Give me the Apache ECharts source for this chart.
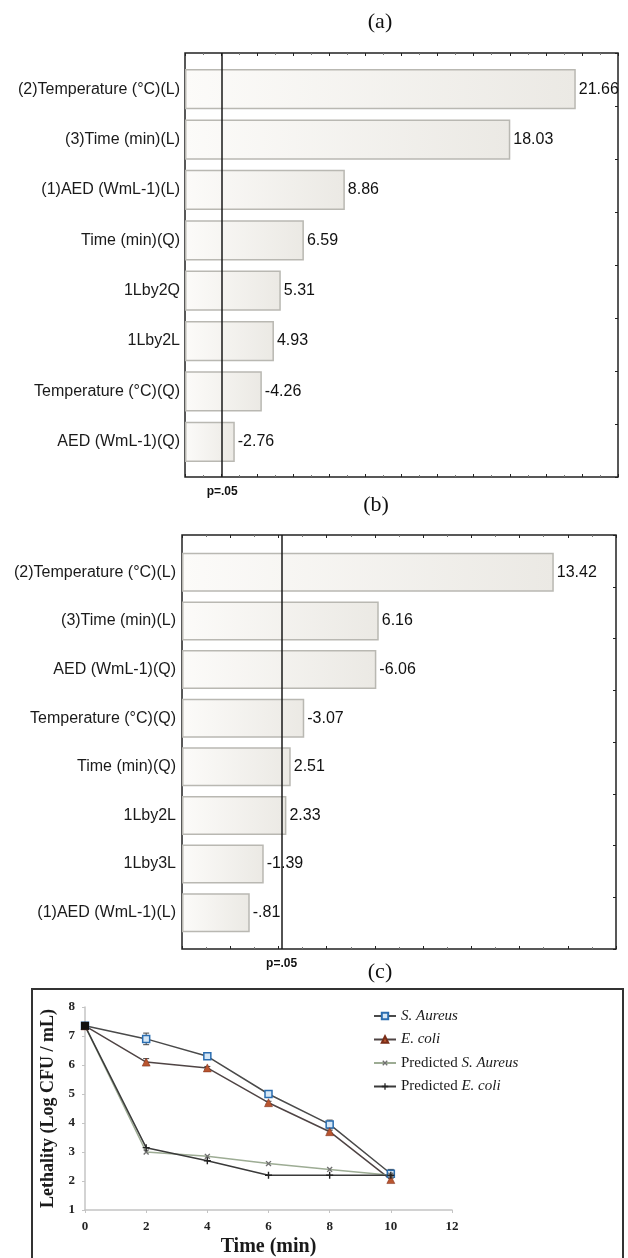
<!DOCTYPE html>
<html>
<head>
<meta charset="utf-8">
<script src="https://cdn.jsdelivr.net/npm/echarts@6/dist/echarts.min.js"></script>
<style>
html, body { margin: 0; padding: 0; background: #fff; }
#chart { width: 628px; height: 1258px; }
</style>
</head>
<body>
<div id="chart"></div>
<script>
// (a) pareto of standardized effects
const factorsA = ['(2)Temperature (°C)(L)', '(3)Time (min)(L)', '(1)AED (WmL-1)(L)', 'Time (min)(Q)', '1Lby2Q', '1Lby2L', 'Temperature (°C)(Q)', 'AED (WmL-1)(Q)'];
const effectsA = [21.66, 18.03, 8.86, 6.59, 5.31, 4.93, -4.26, -2.76];
const pLimitA = 2.06;

// (b)
const factorsB = ['(2)Temperature (°C)(L)', '(3)Time (min)(L)', 'AED (WmL-1)(Q)', 'Temperature (°C)(Q)', 'Time (min)(Q)', '1Lby2L', '1Lby3L', '(1)AED (WmL-1)(L)'];
const effectsB = [13.42, 6.16, -6.06, -3.07, 2.51, 2.33, -1.39, -0.81];
const pLimitB = 2.13;

// (c) lethality vs time
const timeMin = [0, 2, 4, 6, 8, 10];
const sAureus = [7.35, 6.9, 6.3, 5.0, 3.95, 2.25];
const eColi = [7.35, 6.1, 5.9, 4.7, 3.7, 2.05];
const predSAureus = [7.35, 3.0, 2.85, 2.6, 2.4, 2.2];
const predEColi = [7.35, 3.15, 2.7, 2.2, 2.2, 2.2];
const errSAureus = [0, 0.2, 0.05, 0.08, 0.15, 0.15];
const errEColi = [0, 0.12, 0.05, 0.05, 0.05, 0.1];

const sans = '"Liberation Sans", Arial, sans-serif';
const serif = '"Liberation Serif", "Times New Roman", serif';

function effectLabel(v) {
    return String(v).replace(/^(-?)0\./, '$1.');
}
function pairs(xs, ys) {
    return xs.map((x, i) => [x, ys[i]]);
}

const barFill = {
    type: 'linear', x: 0, y: 0, x2: 1, y2: 0,
    colorStops: [{ offset: 0, color: '#fcfbf9' }, { offset: 1, color: '#ebe9e4' }]
};

function tickAxis(grid, pos, min, max) {
    return {
        type: 'value', gridIndex: grid, position: pos, min: min, max: max, interval: 2,
        axisLine: { show: false, onZero: false }, axisLabel: { show: false }, splitLine: { show: false },
        axisTick: { show: true, inside: true, length: 3, lineStyle: { color: '#222' } },
        minorTick: { show: true, splitNumber: 2, length: 2, lineStyle: { color: '#777' } }
    };
}
function rightAxis(grid) {
    return {
        type: 'value', gridIndex: grid, position: 'right', min: 0, max: 8, interval: 1,
        axisLine: { show: false, onZero: false }, axisLabel: { show: false }, splitLine: { show: false },
        axisTick: { show: true, inside: true, length: 3, lineStyle: { color: '#222' } }
    };
}
function factorAxis(grid, data, margin) {
    return {
        type: 'category', gridIndex: grid, data: data, inverse: true,
        axisLine: { show: false, onZero: false }, axisTick: { show: false },
        axisLabel: { margin: margin, fontFamily: sans, fontSize: 16, color: '#1a1a1a' }
    };
}
function effectBars(xi, yi, effects) {
    return {
        type: 'bar', xAxisIndex: xi, yAxisIndex: yi,
        data: effects.map(Math.abs),
        barCategoryGap: '20%',
        itemStyle: { color: barFill, borderColor: '#b9b8b2', borderWidth: 1.5 },
        label: {
            show: true, position: 'right', distance: 3,
            fontFamily: sans, fontSize: 16, color: '#111',
            formatter: p => effectLabel(effects[p.dataIndex])
        }
    };
}
function pLine(xi, yi, limit) {
    return {
        type: 'line', xAxisIndex: xi, yAxisIndex: yi, data: [], silent: true,
        markLine: {
            silent: true, symbol: ['none', 'none'],
            lineStyle: { color: '#1a1a1a', width: 1.5, type: 'solid' },
            label: { show: true, position: 'start', distance: 9, formatter: 'p=.05',
                fontFamily: sans, fontWeight: 'bold', fontSize: 12, color: '#111' },
            data: [{ xAxis: limit }]
        }
    };
}
function errorBar(params, api) {
    const x = api.value(0), y = api.value(1), e = api.value(2);
    if (!e) return;
    const hi = api.coord([x, y + e]);
    const lo = api.coord([x, y - e]);
    const style = { stroke: '#444', lineWidth: 1 };
    return {
        type: 'group',
        children: [
            { type: 'line', shape: { x1: hi[0], y1: hi[1], x2: lo[0], y2: lo[1] }, style: style },
            { type: 'line', shape: { x1: hi[0] - 3, y1: hi[1], x2: hi[0] + 3, y2: hi[1] }, style: style },
            { type: 'line', shape: { x1: lo[0] - 3, y1: lo[1], x2: lo[0] + 3, y2: lo[1] }, style: style }
        ]
    };
}

const plusPath = 'path://M4,0H6V10H4ZM0,4H10V6H0Z';

const option = {
    animation: false,
    backgroundColor: '#fff',
    graphic: [
        { type: 'text', x: 380, y: 22, style: { text: '(a)', font: '22px ' + serif, fill: '#111', align: 'center', verticalAlign: 'middle' } },
        { type: 'text', x: 376, y: 505, style: { text: '(b)', font: '22px ' + serif, fill: '#111', align: 'center', verticalAlign: 'middle' } },
        { type: 'text', x: 380, y: 972, style: { text: '(c)', font: '22px ' + serif, fill: '#111', align: 'center', verticalAlign: 'middle' } },
        { type: 'rect', shape: { x: 32, y: 989, width: 591, height: 300 }, style: { fill: 'none', stroke: '#333', lineWidth: 2 } }
    ],
    grid: [
        { left: 185, right: 10, top: 53, bottom: 781, show: true, borderColor: '#222', borderWidth: 1.5 },
        { left: 185, right: 10, top: 64, bottom: 791 },
        { left: 182, right: 12, top: 535, bottom: 309, show: true, borderColor: '#222', borderWidth: 1.5 },
        { left: 182, right: 12, top: 548, bottom: 321 },
        { left: 85, right: 176, top: 1007, bottom: 45 }
    ],
    xAxis: [
        tickAxis(0, 'top', 0, 24),
        tickAxis(0, 'bottom', 0, 24),
        { type: 'value', gridIndex: 1, min: 0, max: 24, show: false },
        tickAxis(2, 'top', -2, 16),
        tickAxis(2, 'bottom', -2, 16),
        { type: 'value', gridIndex: 3, min: -2, max: 16, startValue: -2, show: false },
        {
            type: 'value', gridIndex: 4, min: 0, max: 12, interval: 2,
            name: 'Time (min)', nameLocation: 'middle', nameGap: 27,
            nameTextStyle: { fontFamily: serif, fontWeight: 'bold', fontSize: 20, color: '#1a1a1a' },
            axisLine: { show: true, onZero: false, lineStyle: { color: '#c4c4c4', width: 1.5 } },
            axisTick: { show: true, length: 3, lineStyle: { color: '#c4c4c4' } },
            splitLine: { show: false },
            axisLabel: { fontFamily: serif, fontWeight: 'bold', fontSize: 13, color: '#222', margin: 10 }
        }
    ],
    yAxis: [
        rightAxis(0),
        factorAxis(1, factorsA, 5),
        rightAxis(2),
        factorAxis(3, factorsB, 6),
        {
            type: 'value', gridIndex: 4, min: 1, max: 8, interval: 1,
            name: 'Lethality (Log CFU / mL)', nameLocation: 'middle', nameGap: 26,
            nameTextStyle: { fontFamily: serif, fontWeight: 'bold', fontSize: 18, color: '#1a1a1a' },
            axisLine: { show: true, onZero: false, lineStyle: { color: '#c4c4c4', width: 1.5 } },
            axisTick: { show: true, length: 3, lineStyle: { color: '#c4c4c4' } },
            splitLine: { show: false },
            axisLabel: { fontFamily: serif, fontWeight: 'bold', fontSize: 13, color: '#222', margin: 10 }
        }
    ],
    legend: {
        data: ['S. Aureus', 'E. coli', 'Predicted S. Aureus', 'Predicted E. coli'],
        orient: 'vertical', left: 368, top: 1003,
        itemWidth: 22, itemHeight: 8, itemGap: 7.5,
        formatter: name => name.replace(/(S\. Aureus|E\. coli)/, '{i|$1}'),
        textStyle: {
            fontFamily: serif, fontSize: 15, color: '#1a1a1a', lineHeight: 16,
            rich: { i: { fontFamily: serif, fontStyle: 'italic', fontSize: 15, color: '#1a1a1a', lineHeight: 16 } }
        }
    },
    series: [
        effectBars(2, 1, effectsA),
        pLine(1, 0, pLimitA),
        effectBars(5, 3, effectsB),
        pLine(4, 2, pLimitB),
        {
            type: 'custom', xAxisIndex: 6, yAxisIndex: 4, silent: true, renderItem: errorBar,
            encode: { x: 0, y: 1 }, data: timeMin.map((t, i) => [t, sAureus[i], errSAureus[i]])
        },
        {
            type: 'custom', xAxisIndex: 6, yAxisIndex: 4, silent: true, renderItem: errorBar,
            encode: { x: 0, y: 1 }, data: timeMin.map((t, i) => [t, eColi[i], errEColi[i]])
        },
        {
            name: 'S. Aureus', type: 'line', xAxisIndex: 6, yAxisIndex: 4,
            data: pairs(timeMin, sAureus), symbol: 'rect', symbolSize: 7,
            lineStyle: { color: '#4a4a4a', width: 1.5 },
            itemStyle: { color: '#d6e7f6', borderColor: '#2a6db0', borderWidth: 1.5 }
        },
        {
            name: 'E. coli', type: 'line', xAxisIndex: 6, yAxisIndex: 4,
            data: pairs(timeMin, eColi), symbol: 'triangle', symbolSize: 8,
            lineStyle: { color: '#4f4444', width: 1.5 },
            itemStyle: { color: '#b9552f', borderColor: '#7a2d18', borderWidth: 0.5 }
        },
        {
            name: 'Predicted S. Aureus', type: 'line', xAxisIndex: 6, yAxisIndex: 4,
            data: pairs(timeMin, predSAureus), symbol: plusPath, symbolSize: 7, symbolRotate: 45,
            lineStyle: { color: '#9dac94', width: 1.5 },
            itemStyle: { color: '#707070' }
        },
        {
            name: 'Predicted E. coli', type: 'line', xAxisIndex: 6, yAxisIndex: 4,
            data: pairs(timeMin, predEColi).map((p, i) => i === 0
                ? { value: p, symbol: 'rect', symbolSize: 8, symbolRotate: 0, itemStyle: { color: '#111' } }
                : p),
            symbol: plusPath, symbolSize: 7,
            lineStyle: { color: '#3a3a3a', width: 1.5 },
            itemStyle: { color: '#222' }
        }
    ]
};

const myChart = echarts.init(document.getElementById('chart'));
myChart.setOption(option);
</script>
</body>
</html>
